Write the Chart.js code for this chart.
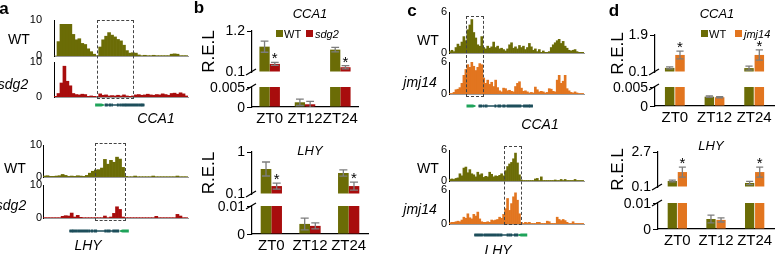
<!DOCTYPE html>
<html>
<head>
<meta charset="utf-8">
<script src="https://cdn.jsdelivr.net/npm/chart.js@4.4.1/dist/chart.umd.min.js"></script>
<style>
  body { margin: 0; background: #fff; }
  #fig { position: relative; width: 778px; height: 254px; overflow: hidden; background: #fff;
         font-family: 'Liberation Sans', Arial, sans-serif; color: #000; }
  #fig canvas { position: absolute; }
  .t { position: absolute; white-space: nowrap; line-height: 1; transform: translate(-50%, -50%); }
  .tl { position: absolute; white-space: nowrap; line-height: 1; transform: translate(0, -50%); }
  .tr { position: absolute; white-space: nowrap; line-height: 1; transform: translate(-100%, -50%); z-index: 2; }
  .box { position: absolute; border: 1px dashed #444; box-sizing: border-box; }
  .sq { position: absolute; width: 7px; height: 7px; }
</style>
</head>
<body>
<div id="fig"></div>
<script>
// browser tracks (a: 3px bins, c: 2px bins)
const aCcaWT = [0, 4, 8.8, 8.8, 8.8, 8.8, 6, 4.5, 4.8, 3.5, 3.2, 2, 1.2, 0.5, 0.1, 2.5, 4.5, 5.5, 6.5, 5.8, 5.3, 4.6, 4.2, 3, 1.5, 0.8, 0.9, 0.8, 0.3, 0.1, 0.2, 0.1, 0.1, 0.2, 0.1, 0.1, 0.1, 0.1, 0.1, 0.5, 0.6, 0.5, 0.1, 0.1, 0.1];
const aCcaSdg2 = [0.2, 1, 4, 8.8, 4.5, 3.2, 1, 0.7, 0.6, 0.8, 0.7, 0.2, 0.3, 0.2, 0.1, 0.9, 0.5, 0.6, 0.3, 0.4, 0.3, 0.5, 0.3, 0.6, 0.3, 0.2, 0.3, 0.6, 0.7, 0.5, 0.6, 0.8, 0.6, 0.5, 0.7, 0.6, 0.9, 0.7, 0.5, 1.0, 1.1, 0.8, 1.2, 0.9, 0.3];
const aLhyWT = [0.3, 0.4, 0.2, 0.2, 0.3, 0.4, 0.8, 0.5, 0.2, 0.3, 0.2, 0.4, 0.3, 0.2, 0.5, 1.2, 1.8, 2.2, 2.3, 2.8, 5.5, 4.0, 5.2, 4.6, 6.2, 5.6, 3.0, 0.2, 0.1, 0.1, 0.3, 0.1, 0.1, 0.1, 0.1, 0.1, 0.3, 0.1, 0.1, 0.1, 0.1, 0.1, 0.1, 0.1, 0.3, 0.1, 0.1, 0.1];
const aLhySdg2 = [0.1, 0.1, 0.1, 0.1, 0.1, 0.1, 0.5, 0.7, 0.6, 1.5, 0.3, 0.8, 0.2, 0.1, 0.1, 0.1, 0.1, 0.1, 0.1, 0.1, 0.6, 0.1, 0.3, 1.4, 3.4, 2.6, 0.3, 0.1, 0.1, 0.1, 0.1, 0.1, 0.1, 0.1, 0.1, 0.1, 0.1, 0.5, 0.1, 0.1, 0.1, 0.1, 0.1, 0.1, 1.1, 0.6, 0.1, 0.1];
const cCcaWT = [0.2, 0.4, 0.2, 0.8, 1.3, 1.0, 1.6, 2.4, 1.8, 3.4, 4.1, 4.9, 3.0, 2.2, 1.2, 1.0, 2.4, 0.8, 0.6, 1.0, 0.7, 0.9, 1.6, 0.8, 1.0, 0.6, 0.7, 0.5, 0.3, 0.6, 1.2, 1.5, 0.7, 0.9, 0.6, 1.1, 0.8, 1.0, 0.5, 0.8, 1.4, 0.9, 0.4, 0.6, 0.2, 0.5, 0.1, 0.3, 0.1, 0.1, 0.2, 0.8, 1.2, 1.5, 1.8, 2.0, 1.4, 1.7, 1.0, 0.7, 0.4, 0.3, 0.4, 0.5, 0.2, 0.1, 0.1, 0.1];
const cCcaJmj14 = [0.1, 0.1, 0.3, 0.8, 0.9, 1.2, 2.0, 3.5, 4.6, 5.5, 5.0, 6.0, 5.2, 4.4, 5.0, 5.7, 5.5, 3.0, 2.0, 2.6, 1.8, 2.2, 1.4, 2.6, 1.2, 0.6, 0.4, 1.1, 1.0, 0.6, 0.7, 0.5, 0.4, 1.4, 2.0, 2.3, 1.1, 0.5, 0.6, 0.4, 0.2, 0.3, 0.2, 1.3, 0.8, 0.4, 0.5, 0.4, 0.2, 0.3, 1.0, 0.9, 0.5, 0.4, 2.6, 3.5, 2.0, 2.4, 3.5, 1.0, 0.6, 0.3, 0.2, 0.4, 0.2, 0.1, 0.1, 0.1];
const cLhyWT = [0.3, 0.4, 0.3, 0.5, 0.6, 1.4, 1.0, 2.5, 2.7, 1.6, 2.2, 1.4, 1.2, 0.8, 1.7, 1.2, 1.4, 0.7, 0.9, 0.8, 1.7, 1.3, 0.8, 1.0, 0.9, 1.1, 1.4, 1.0, 2.0, 2.8, 3.3, 3.6, 4.3, 5.4, 3.5, 1.2, 0.2, 0.1, 0.1, 0.1, 0.1, 0.1, 0.1, 0.4, 0.5, 0.1, 0.8, 0.1, 0.1, 0.1, 0.1, 0.1, 0.1, 0.2, 0.1, 0.1, 0.3, 0.1, 0.3, 0.1, 0.1, 0.1, 0.1, 0.3, 0.1, 0.1, 0.1, 0.1];
const cLhyJmj14 = [0.2, 0.3, 0.3, 0.4, 0.5, 0.4, 0.7, 1.2, 1.0, 1.8, 1.1, 0.9, 1.7, 1.4, 2.1, 0.9, 0.4, 0.3, 0.3, 0.4, 0.3, 0.7, 0.6, 0.7, 0.8, 1.2, 1.0, 1.7, 2.7, 4.5, 2.4, 3.6, 4.8, 5.5, 4.2, 1.8, 0.3, 0.1, 0.3, 0.2, 0.3, 0.1, 0.1, 0.1, 0.3, 0.3, 0.1, 0.1, 0.1, 0.5, 0.4, 0.1, 0.1, 0.1, 1.2, 0.8, 0.6, 0.8, 0.6, 0.3, 0.1, 0.1, 0.4, 0.1, 0.1, 0.1, 0.1, 0.1];

// gene models, positions along the track
const ccaExonsA = [[45, 49], [51.5, 52.5], [53.5, 54.5], [56, 57.3], [65, 67], [69, 70.5], [72, 79], [79.5, 99], [100, 105.5]];
const ccaUtrA = [[105.5, 109]];
const ccaIntronA = [45, 109];
const lhyExonsA = [[7, 14], [15, 32], [33, 35], [37, 40], [42, 46], [59, 60.5], [62, 64], [65, 68], [72, 82]];
const lhyUtrA = [[2, 7]];
const lhyIntronA = [2, 82];
const ccaExonsC = [[10, 15], [17.5, 18.5], [20.5, 21.5], [22.5, 23.5], [36, 38], [41, 46], [49, 53], [56, 79], [83, 93]];
const ccaUtrC = [[93, 98]];
const ccaIntronC = [10, 98];
const lhyExonsC = [[9, 16], [18, 38], [39, 43], [44, 48], [56, 58], [59, 61], [62, 64], [68, 74]];
const lhyUtrC = [[3, 8]];
const lhyIntronC = [3, 74];

// qPCR
const zt = ['ZT0', 'ZT12', 'ZT24'];
const bCcaWT = [0.78, 0.00118, 0.70];
const bCcaWTErr = [0.15, 0.0008, 0.06];
const bCcaSdg2 = [0.317, 0.00068, 0.227];
const bCcaSdg2Err = [0.04, 0.00075, 0.045];
const bLhyWT = [0.636, 0.0036, 0.55];
const bLhyWTErr = [0.15, 0.0021, 0.065];
const bLhySdg2 = [0.27, 0.0029, 0.27];
const bLhySdg2Err = [0.065, 0.0011, 0.085];
const dCcaWT = [0.3, 0.00245, 0.29];
const dCcaWTErr = [0.05, 0.0002, 0.1];
const dCcaJmj14 = [0.93, 0.0023, 0.93];
const dCcaJmj14Err = [0.19, 0.00015, 0.25];
const dLhyWT = [0.546, 0.00385, 0.40];
const dLhyWTErr = [0.07, 0.0015, 0.12];
const dLhyJmj14 = [1.21, 0.0035, 1.21];
const dLhyJmj14Err = [0.37, 0.0008, 0.37];
const mutantSig = [true, false, true];
const wtSig = [false, false, false];

const bCcaUpperTicks = [0.1, 1.2], bCcaLowerTicks = [0, 0.005];
const bLhyUpperTicks = [0.1, 1], bLhyLowerTicks = [0, 0.01];
const dCcaUpperTicks = [0.1, 1.9], dCcaLowerTicks = [0, 0.005];
const dLhyUpperTicks = [0.1, 2.7], dLhyLowerTicks = [0, 0.01];

const olive = '#6b6c06', red = '#a80d0d', orange = '#e2751f', teal = '#1d4e5b', green = '#1fa35a';
const fontFamily = "'Liberation Sans', Arial, sans-serif";

Chart.defaults.font.family = fontFamily;
Chart.defaults.color = '#000';

const fig = document.getElementById('fig');

function place(left, top, w, h) {
    const c = document.createElement('canvas');
    c.width = w; c.height = h;
    c.style.left = left + 'px'; c.style.top = top + 'px';
    c.style.width = w + 'px'; c.style.height = h + 'px';
    fig.appendChild(c);
    return c;
}

function text(cls, str, x, y, css) {
    const d = document.createElement('div');
    d.className = cls;
    d.textContent = str;
    d.style.cssText = `left:${x}px;top:${y}px;` + (css || '');
    fig.appendChild(d);
}
const lab = (s, x, y, css) => text('t', s, x, y, css);
const labL = (s, x, y, css) => text('tl', s, x, y, css);
const labR = (s, x, y, css) => text('tr', s, x, y, css);

function dashBox(x1, y1, x2, y2) {
    const d = document.createElement('div');
    d.className = 'box';
    d.style.cssText = `left:${x1}px;top:${y1}px;width:${x2 - x1}px;height:${y2 - y1}px;`;
    fig.appendChild(d);
}

function square(x, y, color) {
    const d = document.createElement('div');
    d.className = 'sq';
    d.style.cssText = `left:${x}px;top:${y}px;background:${color};`;
    fig.appendChild(d);
}

// one coverage track; gap = space between tick label and axis line
function track(axisX, top, bottom, width, values, color, max, gap) {
    const padL = 30, padT = 7, padB = 7;
    const cv = place(axisX - padL, top - padT, width + padL + 2, bottom - top + padT + padB);
    new Chart(cv, {
        type: 'bar',
        data: {
            labels: values.map((v, i) => i),
            datasets: [{ data: values, backgroundColor: color, borderWidth: 0, barPercentage: 1, categoryPercentage: 1 }]
        },
        options: {
            responsive: false, animation: false, events: [], devicePixelRatio: 1,
            layout: { padding: { top: padT, right: 2, bottom: padB, left: 0 } },
            plugins: { legend: { display: false }, tooltip: { enabled: false } },
            scales: {
                x: { grid: { display: false, drawTicks: false }, ticks: { display: false }, border: { color: '#9a9a9a' },
                     afterFit: s => { s.height = 0; } },
                y: { min: 0, max: max, grid: { display: false, drawTicks: true, tickLength: gap }, border: { color: '#000' },
                     afterBuildTicks: s => { s.ticks = [{ value: 0 }, { value: max }]; },
                     ticks: { font: { size: 11 }, color: '#000', padding: 0, autoSkip: false },
                     afterFit: s => { s.width = padL; } }
            }
        }
    });
}

// gene model under a track
function gene(axisX, cy, width, exons, utr, intron, tss, dir) {
    const cv = place(axisX - 15, cy - 8, width + 17, 16);
    const bar = (rows, thick) => ({
        type: 'bar', indexAxis: 'y', grouped: false, barThickness: thick,
        data: rows.map(r => ({ x: r, y: 0 })), backgroundColor: teal, borderWidth: 0
    });
    new Chart(cv, {
        type: 'bar',
        data: {
            datasets: [
                bar(exons, 7),
                bar(utr, 4),
                bar([intron], 1),
                { type: 'scatter', data: [{ x: tss, y: 0 }], pointStyle: 'triangle', rotation: dir,
                  radius: 6.5, backgroundColor: green, borderColor: green, borderWidth: 0 }
            ]
        },
        options: {
            responsive: false, animation: false, events: [], devicePixelRatio: 1,
            layout: { padding: 0 },
            plugins: { legend: { display: false }, tooltip: { enabled: false } },
            scales: {
                x: { type: 'linear', display: false, min: -15, max: width + 2 },
                y: { type: 'linear', display: false, min: -1, max: 1 }
            }
        }
    });
}

const errorBars = {
    id: 'errorBars',
    afterDatasetsDraw(chart) {
        const { ctx, chartArea: a } = chart;
        const y = chart.scales.y;
        ctx.save();
        ctx.beginPath();
        ctx.rect(a.left, a.top - 1, a.right - a.left, a.bottom - a.top + 1);
        ctx.clip();
        ctx.strokeStyle = '#7d7d7d';
        ctx.lineWidth = 1.3;
        chart.data.datasets.forEach((ds, di) => {
            chart.getDatasetMeta(di).data.forEach((el, i) => {
                const v = ds.data[i], e = ds.err[i];
                const yt = y.getPixelForValue(v + e), yb = y.getPixelForValue(v - e);
                const hw = el.width * 0.38;
                ctx.beginPath();
                ctx.moveTo(el.x, yt); ctx.lineTo(el.x, yb);
                ctx.moveTo(el.x - hw, yt); ctx.lineTo(el.x + hw, yt);
                ctx.moveTo(el.x - hw, yb); ctx.lineTo(el.x + hw, yb);
                ctx.stroke();
            });
        });
        ctx.restore();
        ctx.save();
        ctx.fillStyle = '#000';
        ctx.font = '15px ' + fontFamily;
        ctx.textAlign = 'center';
        ctx.textBaseline = 'alphabetic';
        chart.data.datasets.forEach((ds, di) => {
            chart.getDatasetMeta(di).data.forEach((el, i) => {
                if (!ds.sig[i]) return;
                const yt = y.getPixelForValue(ds.data[i] + ds.err[i]);
                if (yt < a.top - 4 || yt > a.bottom) return;
                ctx.fillText('*', el.x, yt + 1);
            });
        });
        ctx.restore();
    }
};

// break mark on the y axis
const axisBreak = {
    id: 'brk',
    afterDraw(chart, args, opt) {
        const { ctx, chartArea: a } = chart;
        const y = opt.edge === 'bottom' ? a.bottom : a.top;
        ctx.save();
        ctx.strokeStyle = '#000';
        ctx.lineWidth = 1.3;
        ctx.beginPath();
        ctx.moveTo(a.left - 6, y + 3);
        ctx.lineTo(a.left + 4, y - 3);
        ctx.stroke();
        ctx.restore();
    }
};

// broken y axis bar chart: two stacked charts sharing x categories
function brokenBars(p) {
    const axisW = p.axisX - p.left;
    const pad = 11;
    const sets = base => p.series.map(s => ({
        label: s.label, data: s.data, err: s.err, sig: s.sig, backgroundColor: s.color,
        base: base, clip: 0, borderWidth: 0, categoryPercentage: p.cat, barPercentage: p.bar
    }));
    const yAxis = (ticks, withTitle, edge) => ({
        min: ticks[0], max: ticks[1],
        afterBuildTicks: s => { s.ticks = ticks.map(v => ({ value: v })); },
        grid: { display: true, drawOnChartArea: false, drawTicks: true, tickLength: 5,
                color: c => (edge === 'bottom' && c.tick && c.tick.value === ticks[0]) ? 'rgba(0,0,0,0)' : '#000' },
        border: { color: '#000', width: 1.2 },
        ticks: { display: withTitle, font: { size: 14 }, color: '#000', padding: 2, autoSkip: false, callback: v => String(v) },
        title: { display: withTitle, text: 'R.E.L', font: { size: 17 }, color: '#000' },
        afterFit: s => { s.width = axisW; }
    });
    const base = { responsive: false, animation: false, events: [], devicePixelRatio: 1 };
    const cu = place(p.left, p.up[0] - pad, p.right - p.left + 4, Math.round(p.up[1] - p.up[0] + 2 * pad));
    new Chart(cu, {
        type: 'bar',
        data: { labels: zt, datasets: sets(p.upTicks[0]) },
        options: Object.assign({}, base, {
            layout: { padding: { top: pad, right: 4, bottom: pad, left: 0 } },
            plugins: { legend: { display: false }, tooltip: { enabled: false }, brk: { edge: 'bottom' } },
            scales: { x: { display: false }, y: yAxis(p.upTicks, true, 'bottom') }
        }),
        plugins: [errorBars, axisBreak]
    });
    const xh = 22;
    const lowTop = p.lo[0] - pad;
    const cl = place(p.left, lowTop, p.right - p.left + 4, p.lo[1] - p.lo[0] + pad + xh);
    const low = new Chart(cl, {
        type: 'bar',
        data: { labels: zt, datasets: sets(p.loTicks[0]) },
        options: Object.assign({}, base, {
            layout: { padding: { top: pad, right: 4, bottom: 0, left: 0 } },
            plugins: { legend: { display: false }, tooltip: { enabled: false }, brk: { edge: 'top' } },
            scales: {
                x: { grid: { display: false, drawTicks: false }, border: { color: '#000', width: 1.2 },
                     ticks: { font: { size: 15 }, color: '#000', padding: 3, maxRotation: 0, autoSkip: false },
                     afterFit: s => { s.height = xh; } },
                y: yAxis(p.loTicks, false, 'top')
            }
        }),
        plugins: [errorBars, axisBreak]
    });
    // tick labels of the short lower axis, placed from its scale
    const ys = low.scales.y;
    p.loTicks.forEach(v => labR(String(v), p.left + ys.right - 7, lowTop + ys.getPixelForValue(v), 'font-size:14px;'));
}

// ---- panel a ----
track(54, 20, 56, 134, aCcaWT, olive, 10, 12);
track(54, 62, 97, 134, aCcaSdg2, red, 10, 12);
gene(54, 105, 134, ccaExonsA, ccaUtrA, ccaIntronA, 34, 90);
track(43, 145, 177, 145, aLhyWT, olive, 10, 1);
track(43, 185, 218, 145, aLhySdg2, red, 10, 1);
gene(43, 231, 145, lhyExonsA, lhyUtrA, lhyIntronA, 93, -90);
dashBox(97, 20, 134, 99);
dashBox(95, 143, 126, 221);

// ---- panel c ----
track(449, 12, 53, 135, cCcaWT, olive, 6, 2);
track(449, 62, 94, 135, cCcaJmj14, orange, 6, 2);
gene(449, 106, 135, ccaExonsC, ccaUtrC, ccaIntronC, -5, 90);
track(449, 150, 181, 135, cLhyWT, olive, 6, 2);
track(449, 190, 224, 135, cLhyJmj14, orange, 6, 2);
gene(449, 235, 135, lhyExonsC, lhyUtrC, lhyIntronC, 84, -90);
dashBox(466, 16, 484, 97);
dashBox(504, 146, 522, 225);

// ---- panel b ----
brokenBars({
    left: 195, axisX: 252, right: 358, up: [31, 72], lo: [87, 107], cat: 0.58, bar: 1,
    upTicks: bCcaUpperTicks, loTicks: bCcaLowerTicks,
    series: [
        { label: 'WT', data: bCcaWT, err: bCcaWTErr, sig: wtSig, color: olive },
        { label: 'sdg2', data: bCcaSdg2, err: bCcaSdg2Err, sig: mutantSig, color: red }
    ]
});
brokenBars({
    left: 195, axisX: 252, right: 368, up: [152, 194], lo: [206, 234], cat: 0.55, bar: 1,
    upTicks: bLhyUpperTicks, loTicks: bLhyLowerTicks,
    series: [
        { label: 'WT', data: bLhyWT, err: bLhyWTErr, sig: wtSig, color: olive },
        { label: 'sdg2', data: bLhySdg2, err: bLhySdg2Err, sig: mutantSig, color: red }
    ]
});

// ---- panel d ----
brokenBars({
    left: 604, axisX: 655, right: 774, up: [35, 72], lo: [87, 106], cat: 0.52, bar: 0.92,
    upTicks: dCcaUpperTicks, loTicks: dCcaLowerTicks,
    series: [
        { label: 'WT', data: dCcaWT, err: dCcaWTErr, sig: wtSig, color: olive },
        { label: 'jmj14', data: dCcaJmj14, err: dCcaJmj14Err, sig: mutantSig, color: orange }
    ]
});
brokenBars({
    left: 604, axisX: 658, right: 774, up: [152, 187], lo: [203, 229], cat: 0.52, bar: 0.92,
    upTicks: dLhyUpperTicks, loTicks: dLhyLowerTicks,
    series: [
        { label: 'WT', data: dLhyWT, err: dLhyWTErr, sig: wtSig, color: olive },
        { label: 'jmj14', data: dLhyJmj14, err: dLhyJmj14Err, sig: mutantSig, color: orange }
    ]
});

// ---- text ----
const big = 'font-size:17px;font-weight:bold;';
lab('a', 4, 8, big);
lab('b', 199, 7, big);
lab('c', 412, 10, big);
lab('d', 614, 10, big);

const trk = 'font-size:14px;';
const it = 'font-size:14px;font-style:italic;';
lab('WT', 19, 39, trk);
lab('sdg2', 13, 84, it);
lab('CCA1', 156, 118, it);
lab('WT', 15, 168, trk);
lab('sdg2', 11, 205, it);
lab('LHY', 88, 245, it);
lab('WT', 428, 40, trk);
lab('jmj14', 420, 82, it);
lab('CCA1', 540, 124, it);
lab('WT', 428, 168, trk);
lab('jmj14', 420, 209, it);
lab('LHY', 498, 250, it);

const ttl = 'font-size:13px;font-style:italic;';
lab('CCA1', 310, 13, ttl);
lab('LHY', 310, 150, ttl);
lab('CCA1', 717, 13, ttl);
lab('LHY', 711, 145, ttl);

// legends
square(276, 30, olive);
labL('WT', 284, 33.5, 'font-size:11px;');
square(306, 30, red);
labL('sdg2', 315, 33.5, 'font-size:11px;font-style:italic;');
square(701, 30, olive);
labL('WT', 709, 33.5, 'font-size:11px;');
square(735, 30, orange);
labL('jmj14', 744, 33.5, 'font-size:11px;font-style:italic;');
</script>
</body>
</html>
